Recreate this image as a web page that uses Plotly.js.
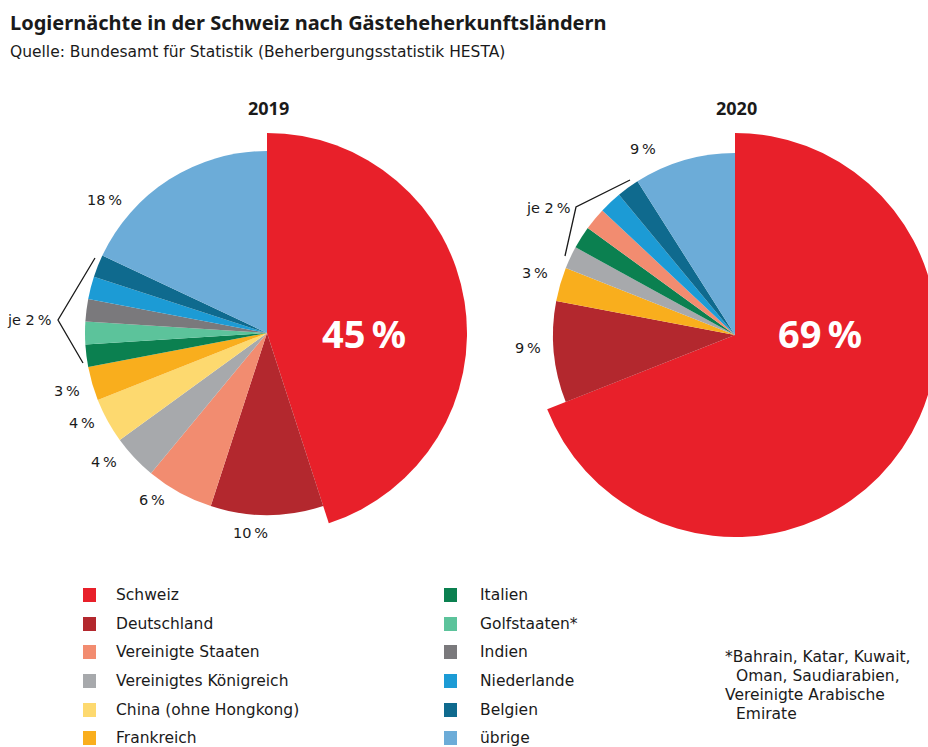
<!DOCTYPE html>
<html>
<head>
<meta charset="utf-8">
<script src="https://cdn.plot.ly/plotly-3.0.1.min.js"></script>
<style>
html,body{margin:0;padding:0;overflow:hidden;background:#fff;}
#chart{width:945px;height:747px;}
</style>
</head>
<body>
<div id="chart"></div>
<script>
// ---- data ----
const categories = ["Schweiz","Deutschland","Vereinigte Staaten","Vereinigtes Königreich","China (ohne Hongkong)","Frankreich","Italien","Golfstaaten*","Indien","Niederlande","Belgien","übrige"];
const colors = ["#e8202a","#b3282e","#f28c70","#a7a9ac","#fdd96f","#f9ae1d","#0b8050","#5cc39b","#7a797c","#1c9bd5","#0f6a8e","#6cacd8"];

const labels2019 = ["Schweiz","Deutschland","Vereinigte Staaten","Vereinigtes Königreich","China (ohne Hongkong)","Frankreich","Italien","Golfstaaten*","Indien","Niederlande","Belgien","übrige"];
const values2019 = [45,10,6,4,4,3,2,2,2,2,2,18];

const labels2020 = ["Schweiz","Deutschland","Frankreich","Vereinigtes Königreich","Italien","Vereinigte Staaten","Niederlande","Belgien","übrige"];
const values2020 = [69,9,3,2,2,2,2,2,9];

const footnote = ["*Bahrain, Katar, Kuwait,","  Oman, Saudiarabien,","Vereinigte Arabische","  Emirate"];

// ---- helpers ----
const W = 945, H = 747;
const FONT = "Noto Sans";
const SMALL = "DejaVu Sans";
const px = x => x / W;
const py = y => 1 - y / H;
const colorOf = l => colors[categories.indexOf(l)];
const T = "rgba(0,0,0,0)";
const pct = v => v + "\u2009%";

function pieTrace(labels, values, cx, cy, r, big){
  return {
    type: "pie",
    labels: labels,
    values: values,
    sort: false,
    direction: "clockwise",
    rotation: 0,
    textinfo: "none",
    hoverinfo: "label+percent",
    showlegend: false,
    domain: {x: [px(cx - r), px(cx + r)], y: [py(cy + r), py(cy - r)]},
    marker: {
      colors: labels.map(l => big ? (l === "Schweiz" ? colorOf(l) : T) : (l === "Schweiz" ? T : colorOf(l))),
      line: {width: 0}
    }
  };
}

const data = [
  pieTrace(labels2019, values2019, 267, 333, 200, true),
  pieTrace(labels2019, values2019, 267, 333, 182, false),
  pieTrace(labels2020, values2020, 735, 335, 202, true),
  pieTrace(labels2020, values2020, 735, 335, 182, false)
];

const ann = [];
const shapes = [];
function txt(x, y, text, size, opts, fam){
  ann.push(Object.assign({
    xref: "paper", yref: "paper", x: px(x), y: py(y), text: text,
    showarrow: false, xanchor: "center", yanchor: "middle",
    font: {family: fam || SMALL, size: size, color: "#1a1a1a"}
  }, opts || {}));
}

// titles
txt(8, 22, "<b>Logiernächte in der Schweiz nach Gästeheherkunftsländern</b>", 20, {xanchor: "left"}, FONT);
txt(8, 52, "Quelle: Bundesamt für Statistik (Beherbergungsstatistik HESTA)", 15.5, {xanchor: "left"});
txt(268, 108, "<b>2019</b>", 18, null, FONT);
txt(736, 108, "<b>2020</b>", 18, null, FONT);

// 2019 slice labels
const wfont = {family: FONT, size: 38, color: "#ffffff"};
txt(364, 333, "<b>" + pct(values2019[0]) + "</b>", 38, {font: wfont});
txt(250, 533, pct(values2019[1]), 14.5);
txt(152, 500, pct(values2019[2]), 14.5);
txt(104, 462, pct(values2019[3]), 14.5);
txt(82, 423, pct(values2019[4]), 14.5);
txt(67, 391, pct(values2019[5]), 14.5);
txt(29, 320, "je\u00a0" + pct(values2019[6]), 14.5);
txt(104, 200, pct(values2019[11]), 14.5);

// 2020 slice labels
txt(820, 333, "<b>" + pct(values2020[0]) + "</b>", 38, {font: wfont});
txt(528, 348, pct(values2020[1]), 14.5);
txt(535, 273, pct(values2020[2]), 14.5);
txt(548, 208, "je\u00a0" + pct(values2020[3]), 14.5);
txt(643, 149, pct(values2020[8]), 14.5);

// brackets for "je 2 %"
function pathLine(pts){
  let d = "";
  pts.forEach((p, i) => { d += (i ? " L " : "M ") + px(p[0]) + " " + py(p[1]); });
  shapes.push({type: "path", xref: "paper", yref: "paper", path: d, line: {color: "#1a1a1a", width: 1.3}});
}
pathLine([[95, 258], [58, 320], [83, 363]]);
pathLine([[630, 180], [576, 207], [565, 256]]);

// manual legend (two columns)
const rowY = [595, 624, 652, 681, 710, 738];
categories.forEach((c, i) => {
  const col = i < 6 ? 0 : 1;
  const row = i % 6;
  const sx = col === 0 ? 83 : 444;
  const tx = col === 0 ? 114 : 478;
  const y = rowY[row];
  shapes.push({type: "rect", xref: "paper", yref: "paper",
    x0: px(sx), x1: px(sx + 13), y0: py(y + 7), y1: py(y - 7),
    fillcolor: colors[i], line: {width: 0}});
  txt(tx, y, c, 15.5, {xanchor: "left"});
});

// footnote
const fy = [657, 676, 695, 714];
footnote.forEach((line, i) => {
  const indent = line.startsWith("  ");
  txt(indent ? 734 : 723, fy[i], line.trim(), 15.5, {xanchor: "left"});
});

const layout = {
  width: W, height: H,
  margin: {l: 0, r: 0, t: 0, b: 0},
  paper_bgcolor: "#ffffff",
  plot_bgcolor: "#ffffff",
  showlegend: false,
  annotations: ann,
  shapes: shapes,
  font: {family: FONT, color: "#1a1a1a"}
};

Plotly.newPlot("chart", data, layout, {displayModeBar: false, staticPlot: true});
</script>
</body>
</html>
